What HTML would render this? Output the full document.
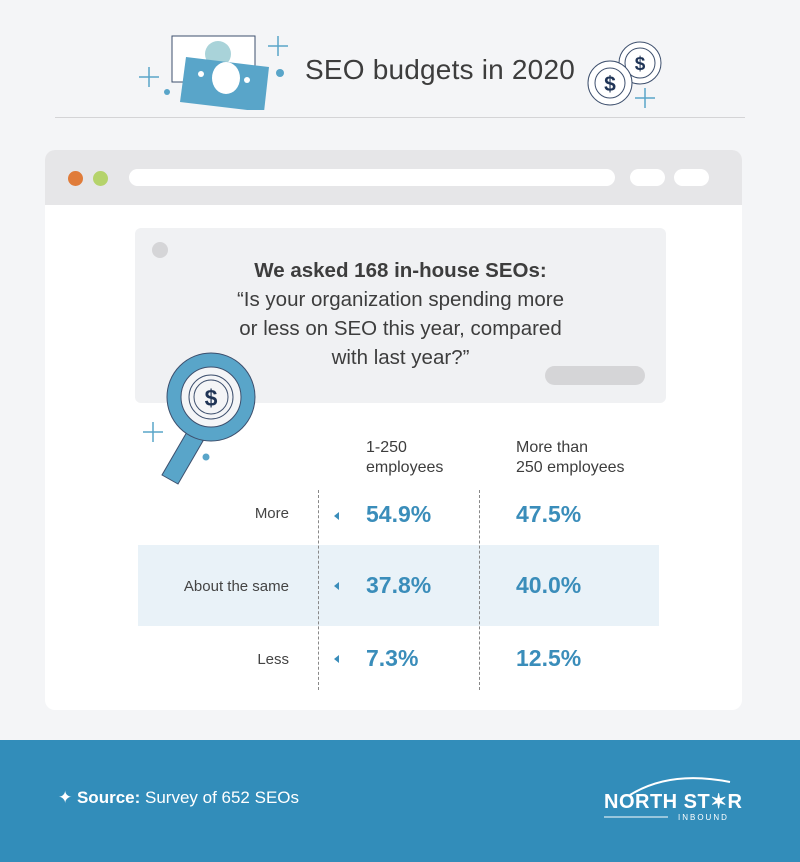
<!DOCTYPE html>
<html><head><meta charset="utf-8"><style>
*{margin:0;padding:0;box-sizing:border-box}
body{width:800px;height:862px;background:#f4f5f7;font-family:"Liberation Sans",sans-serif;position:relative;overflow:hidden;color:#3d3d3d}
.a{position:absolute}
.num{position:absolute;font-weight:bold;font-size:23px;color:#3a8dba}
.lab{position:absolute;font-size:15px;color:#444;text-align:right;width:200px;left:89px}
.tri{position:absolute;width:0;height:0;border-top:4px solid transparent;border-bottom:4px solid transparent;border-right:5px solid #3a8dba}
</style></head><body>
<div class="a" style="left:305px;top:54px;font-size:28px;letter-spacing:0.2px;color:#3d3d3d">SEO budgets in 2020</div>
<svg class="a" style="left:130px;top:30px" width="540" height="80">
<rect x="42" y="6" width="83" height="46" fill="#fff" stroke="#3d4f6d"/>
<circle cx="88" cy="24" r="13" fill="#a9d3d9"/>
<polygon points="56,27 139,37 134,82 50,72" fill="#59a5c9"/>
<ellipse cx="96" cy="48" rx="14" ry="16" fill="#fff"/>
<circle cx="71" cy="44" r="3" fill="#fff"/><circle cx="117" cy="50" r="3" fill="#fff"/>
<circle cx="150" cy="43" r="4" fill="#59a5c9"/><circle cx="37" cy="62" r="3" fill="#59a5c9"/>
<path d="M148 6 v20 M138 16 h20 M19 37 v20 M9 47 h20 M515 58 v20 M505 68 h20" stroke="#59a5c9" stroke-width="1.5"/>
<circle cx="510" cy="33" r="21" fill="#fff" stroke="#3d4f6d"/><circle cx="510" cy="33" r="15" fill="none" stroke="#3d4f6d"/>
<circle cx="480" cy="53" r="22" fill="#fff" stroke="#3d4f6d"/><circle cx="480" cy="53" r="15" fill="none" stroke="#3d4f6d"/>
<text x="510" y="40" font-size="19" font-weight="bold" fill="#1f3456" text-anchor="middle" font-family="Liberation Sans">$</text>
<text x="480" y="61" font-size="21" font-weight="bold" fill="#1f3456" text-anchor="middle" font-family="Liberation Sans">$</text>
</svg>
<div class="a" style="left:55px;top:117px;width:690px;height:1px;background:#d4d4d6"></div>
<div class="a" style="left:45px;top:150px;width:697px;height:560px;background:#fff;border-radius:10px;overflow:hidden">
 <div class="a" style="left:0;top:0;width:697px;height:55px;background:#e6e6e8"></div>
 <div class="a" style="left:23px;top:21px;width:15px;height:15px;border-radius:50%;background:#e07c3a"></div>
 <div class="a" style="left:48px;top:21px;width:15px;height:15px;border-radius:50%;background:#b5d36b"></div>
 <div class="a" style="left:84px;top:19px;width:486px;height:17px;border-radius:9px;background:#fff"></div>
 <div class="a" style="left:585px;top:19px;width:35px;height:17px;border-radius:9px;background:#fff"></div>
 <div class="a" style="left:629px;top:19px;width:35px;height:17px;border-radius:9px;background:#fff"></div>
</div>
<div class="a" style="left:135px;top:228px;width:531px;height:175px;background:#f0f1f3;border-radius:6px">
 <div class="a" style="left:17px;top:14px;width:16px;height:16px;border-radius:50%;background:#d5d5d7"></div>
 <div class="a" style="left:410px;top:138px;width:100px;height:19px;border-radius:10px;background:#d5d5d7"></div>
 <div class="a" style="left:0;top:28px;width:531px;text-align:center;font-size:20.5px;line-height:29px;color:#3d3d3d"><b>We asked 168 in-house SEOs:</b><br>“Is your organization spending more<br>or less on SEO this year, compared<br>with last year?”</div>
</div>
<svg class="a" style="left:135px;top:350px" width="140" height="140">
<path d="M8 82 h20 M18 72 v20" stroke="#59a5c9" stroke-width="1.5"/>
<polygon points="27,125 43,134 72,84 56,75" fill="#59a5c9" stroke="#3d4f6d"/>
<circle cx="76" cy="47" r="44" fill="#59a5c9" stroke="#3d4f6d"/>
<circle cx="76" cy="47" r="30" fill="#f4f5f7" stroke="#3d4f6d"/>
<circle cx="76" cy="47" r="22" fill="none" stroke="#3d4f6d"/><circle cx="76" cy="47" r="17" fill="none" stroke="#3d4f6d"/>
<text x="76" y="56" font-size="23" font-weight="bold" fill="#1f3456" text-anchor="middle" font-family="Liberation Sans">$</text>
<circle cx="71" cy="107" r="3.5" fill="#59a5c9"/>
</svg>
<div class="a" style="left:366px;top:438px;font-size:16px;line-height:20px;color:#3d3d3d">1-250<br>employees</div>
<div class="a" style="left:516px;top:438px;font-size:16px;line-height:20px;color:#3d3d3d">More than<br>250 employees</div>
<div class="a" style="left:138px;top:545px;width:521px;height:81px;background:#e9f2f8"></div>
<div class="a" style="left:318px;top:490px;height:200px;border-left:1px dashed #888"></div>
<div class="a" style="left:479px;top:490px;height:200px;border-left:1px dashed #888"></div>
<div class="lab" style="top:505px">More</div>
<div class="lab" style="top:578px">About the same</div>
<div class="lab" style="top:651px">Less</div>
<div class="tri" style="left:334px;top:512px"></div>
<div class="tri" style="left:334px;top:582px"></div>
<div class="tri" style="left:334px;top:655px"></div>
<div class="num" style="left:366px;top:501px">54.9%</div>
<div class="num" style="left:516px;top:501px">47.5%</div>
<div class="num" style="left:366px;top:572px">37.8%</div>
<div class="num" style="left:516px;top:572px">40.0%</div>
<div class="num" style="left:366px;top:645px">7.3%</div>
<div class="num" style="left:516px;top:645px">12.5%</div>
<div class="a" style="left:0;top:740px;width:800px;height:122px;background:#328dba"></div>
<div class="a" style="left:58px;top:788px;font-size:17px;color:#fff">✦ <b>Source:</b> Survey of 652 SEOs</div>
<svg class="a" style="left:600px;top:770px" width="150" height="50">
<path d="M30 25 Q70 0 130 12" stroke="#fff" stroke-width="2" fill="none"/>
<text x="4" y="38" font-size="20" font-weight="bold" fill="#fff" font-family="Liberation Sans" letter-spacing="0.5">NORTH ST✶R</text>
<line x1="4" y1="47" x2="68" y2="47" stroke="#fff"/>
<text x="78" y="50" font-size="8" fill="#fff" font-family="Liberation Sans" letter-spacing="2">INBOUND</text>
</svg>
</body></html>
